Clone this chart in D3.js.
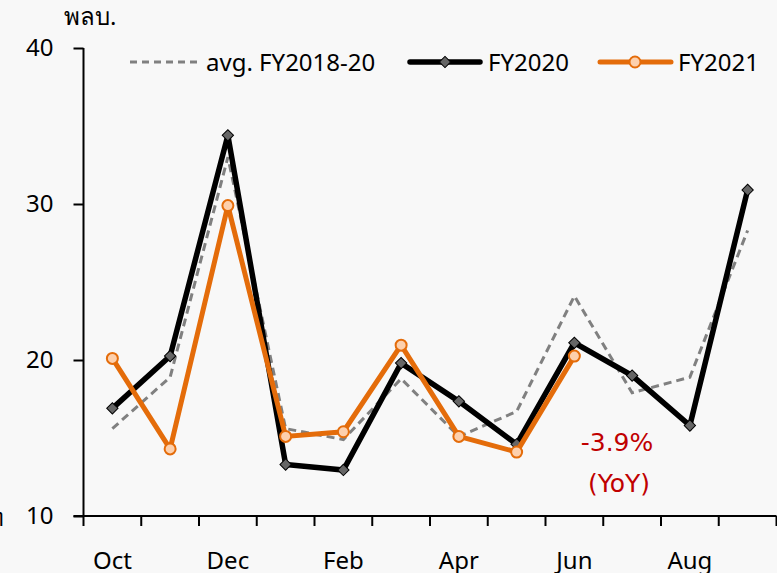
<!DOCTYPE html>
<html>
<head>
<meta charset="utf-8">
<script src="https://cdn.jsdelivr.net/npm/d3@7"></script>
<style>
  html, body { margin: 0; padding: 0; background: #f8f8f8; }
  svg { display: block; font-family: "Noto Sans", "DejaVu Sans", sans-serif; }
</style>
</head>
<body>
<div id="chart"></div>
<script>
(function () {
  'use strict';

  var MONTHS = ['Oct', 'Nov', 'Dec', 'Jan', 'Feb', 'Mar', 'Apr', 'May', 'Jun', 'Jul', 'Aug', 'Sep'];
  var SHOWN_LABELS = ['Oct', 'Dec', 'Feb', 'Apr', 'Jun', 'Aug'];
  var Y_TICKS = [10, 20, 30, 40];

  var avg1820 = [15.6, 18.9, 33.0, 15.6, 14.9, 18.8, 15.1, 16.7, 24.1, 17.9, 18.9, 28.3];
  var fy2020 = [16.9, 20.25, 34.4, 13.3, 12.95, 19.8, 17.35, 14.6, 21.1, 19.0, 15.8, 30.9];
  var fy2021 = [20.1, 14.3, 29.9, 15.1, 15.4, 20.95, 15.1, 14.1, 20.25];

  var W = 777, H = 573;
  var left = 83.5, right = 776.5, top = 48, bottom = 516;
  var FS = 24;

  var svg = d3.select('#chart').append('svg')
    .attr('width', W).attr('height', H);

  var x = d3.scaleBand().domain(MONTHS).range([left, right]);
  var y = d3.scaleLinear().domain([10, 40]).range([bottom, top]);
  function cx(d, i) { return x(MONTHS[i]) + x.bandwidth() / 2; }

  // y axis
  var yAxis = svg.append('g')
    .attr('transform', 'translate(' + left + ',0)')
    .call(d3.axisLeft(y).tickValues(Y_TICKS).tickSize(10).tickPadding(20));
  yAxis.select('.domain').attr('stroke', '#000').attr('stroke-width', 2).attr('d', 'M0,' + top + 'V' + bottom);
  yAxis.selectAll('.tick line').attr('stroke', '#000').attr('stroke-width', 2);
  yAxis.selectAll('.tick text').attr('font-size', FS).attr('fill', '#000')
    .style('font-family', '"Noto Sans", "DejaVu Sans", sans-serif');

  // x axis with ticks at band boundaries
  var xg = svg.append('g').attr('transform', 'translate(0,' + bottom + ')');
  xg.append('line').attr('x1', left - 10).attr('x2', right).attr('stroke', '#000').attr('stroke-width', 2);
  var bounds = MONTHS.map(function (m) { return x(m); }).concat([right]);
  xg.selectAll('line.tk').data(bounds).enter().append('line')
    .attr('class', 'tk')
    .attr('x1', function (d) { return d; }).attr('x2', function (d) { return d; })
    .attr('y1', 0).attr('y2', 10)
    .attr('stroke', '#000').attr('stroke-width', 2);
  xg.selectAll('text').data(SHOWN_LABELS).enter().append('text')
    .attr('x', function (d) { return x(d) + x.bandwidth() / 2; })
    .attr('y', 53)
    .attr('text-anchor', 'middle')
    .attr('font-size', FS)
    .text(function (d) { return d; });

  // unit label
  svg.append('text').attr('x', 64).attr('y', 25).attr('font-size', FS).text('พลบ.');
  svg.append('text').attr('x', -12).attr('y', 526).attr('font-size', FS).text('ท');

  var line = d3.line().x(cx).y(function (d) { return y(d); });

  svg.append('path').datum(avg1820)
    .attr('d', line).attr('fill', 'none')
    .attr('stroke', '#808080').attr('stroke-width', 3).attr('stroke-dasharray', '8,5');

  svg.append('path').datum(fy2020)
    .attr('d', line).attr('fill', 'none')
    .attr('stroke', '#000').attr('stroke-width', 5.5).attr('stroke-linejoin', 'miter');

  svg.append('g').selectAll('rect').data(fy2020).enter().append('rect')
    .attr('x', -4).attr('y', -4).attr('width', 8).attr('height', 8)
    .attr('transform', function (d, i) { return 'translate(' + cx(d, i) + ',' + y(d) + ') rotate(45)'; })
    .attr('fill', '#666').attr('stroke', '#000').attr('stroke-width', 1);

  svg.append('path').datum(fy2021)
    .attr('d', line).attr('fill', 'none')
    .attr('stroke', '#e46c0a').attr('stroke-width', 5);

  svg.append('g').selectAll('circle').data(fy2021).enter().append('circle')
    .attr('cx', cx).attr('cy', function (d) { return y(d); })
    .attr('r', 5.5)
    .attr('fill', '#fdd0ad').attr('stroke', '#e46c0a').attr('stroke-width', 2);

  // annotation (wider face than the axis text)
  var note = svg.append('g').attr('fill', '#c00000').attr('font-size', 25)
    .style('font-family', '"DejaVu Sans", "Noto Sans", sans-serif')
    .attr('text-anchor', 'middle');
  note.append('text').attr('x', 617).attr('y', 451).text('-3.9%');
  note.append('text').attr('x', 619).attr('y', 492).text('(YoY)');

  // legend
  var lg = svg.append('g');
  var ly = 62;
  lg.append('line').attr('x1', 130).attr('x2', 199).attr('y1', ly).attr('y2', ly)
    .attr('stroke', '#808080').attr('stroke-width', 3).attr('stroke-dasharray', '7,5');
  lg.append('text').attr('x', 206).attr('y', ly + 9).attr('font-size', FS).text('avg. FY2018-20');

  lg.append('line').attr('x1', 410).attr('x2', 480).attr('y1', ly).attr('y2', ly)
    .attr('stroke', '#000').attr('stroke-width', 5.5).attr('stroke-linecap', 'round');
  lg.append('rect').attr('x', -4).attr('y', -4).attr('width', 8).attr('height', 8)
    .attr('transform', 'translate(445,' + ly + ') rotate(45)')
    .attr('fill', '#666').attr('stroke', '#000').attr('stroke-width', 1);
  lg.append('text').attr('x', 488).attr('y', ly + 9).attr('font-size', FS).text('FY2020');

  lg.append('line').attr('x1', 600).attr('x2', 671).attr('y1', ly).attr('y2', ly)
    .attr('stroke', '#e46c0a').attr('stroke-width', 5).attr('stroke-linecap', 'round');
  lg.append('circle').attr('cx', 635).attr('cy', ly).attr('r', 5.5)
    .attr('fill', '#fdd0ad').attr('stroke', '#e46c0a').attr('stroke-width', 2);
  lg.append('text').attr('x', 678).attr('y', ly + 9).attr('font-size', FS).text('FY2021');
})();
</script>
</body>
</html>
